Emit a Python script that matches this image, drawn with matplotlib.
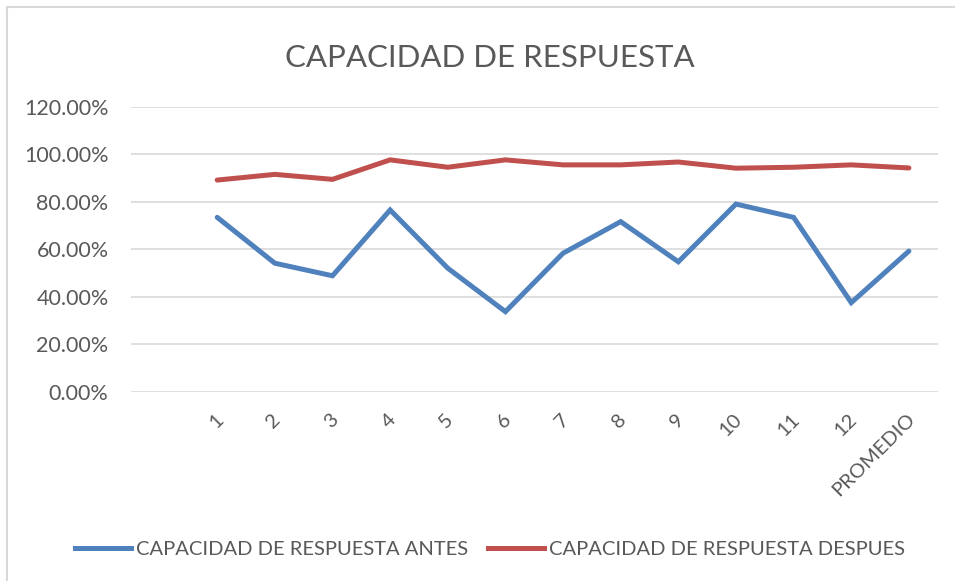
import numpy as np
import matplotlib.pyplot as plt
from matplotlib.lines import Line2D
from matplotlib.ticker import FuncFormatter, MultipleLocator
import matplotlib.transforms as mtransforms

# --> Data
categories = ['1', '2', '3', '4', '5', '6', '7', '8', '9', '10', '11', '12', 'PROMEDIO']
antes = [73.4, 54.1, 48.8, 76.5, 52.0, 33.7, 58.3, 71.6, 54.7, 79.0, 73.4, 37.5, 59.2]
despues = [89.1, 91.5, 89.4, 97.6, 94.5, 97.6, 95.5, 95.5, 96.7, 94.1, 94.5, 95.5, 94.2]
series_names = ['CAPACIDAD DE RESPUESTA ANTES', 'CAPACIDAD DE RESPUESTA DESPUES']
title = 'CAPACIDAD DE RESPUESTA'

BLUE = '#4F81BD'
RED = '#C0504D'
TEXT = '#595959'
GRID = '#D9D9D9'

plt.rcParams['font.family'] = ['Lato', 'DejaVu Sans']

fig = plt.figure(figsize=(9.55, 5.81), dpi=100)
ax = fig.add_axes([0.1369, 0.3258, 0.845, 0.4906])

# --> Lines (first category slot of the original sheet is empty)
x = np.arange(1, len(categories) + 1)
ax.plot(x, antes, color=BLUE, lw=3.6, solid_capstyle='round', solid_joinstyle='miter')
ax.plot(x, despues, color=RED, lw=3.6, solid_capstyle='round', solid_joinstyle='miter')

ax.set_xlim(-0.5, len(categories) + 0.5)
ax.set_ylim(0, 120)
ax.yaxis.set_major_locator(MultipleLocator(20))
ax.yaxis.set_major_formatter(FuncFormatter(lambda v, p: '%.2f%%' % v))
ax.grid(axis='y', color=GRID, lw=1.2)
ax.set_axisbelow(True)
for s in ax.spines.values():
    s.set_visible(False)

ax.tick_params(axis='both', length=0, colors=TEXT, labelsize=14.5)
ax.tick_params(axis='y', pad=16, labelsize=15.5)
ax.set_xticks(x)
ax.set_xticklabels(categories, rotation=45, ha='right', va='center',
                   rotation_mode='anchor')
ax.tick_params(axis='x', pad=18)
offset = mtransforms.ScaledTranslation(3 / 100, 0, fig.dpi_scale_trans)
for lbl in ax.get_xticklabels():
    lbl.set_transform(lbl.get_transform() + offset)

# --> Title
fig.text(490 / 955, 1 - 58 / 581, title, ha='center', va='center',
         fontsize=22.5, color=TEXT)

# --> Legend
handles = [Line2D([0], [0], color=BLUE, lw=3.6), Line2D([0], [0], color=RED, lw=3.6)]
fig.legend(handles, series_names, loc='center', bbox_to_anchor=(490 / 955, 1 - 549 / 581),
           ncol=2, frameon=False, fontsize=14.5, labelcolor=TEXT,
           handlelength=2.75, handletextpad=0.25, columnspacing=1.0)

# --> Chart border (top and left edges visible)
fig.add_artist(Line2D([7 / 955, 1], [1 - 7 / 581, 1 - 7 / 581], color=GRID, lw=1.5))
fig.add_artist(Line2D([7 / 955, 7 / 955], [0, 1 - 7 / 581], color=GRID, lw=1.5))

fig.savefig('out.png', dpi=100)
